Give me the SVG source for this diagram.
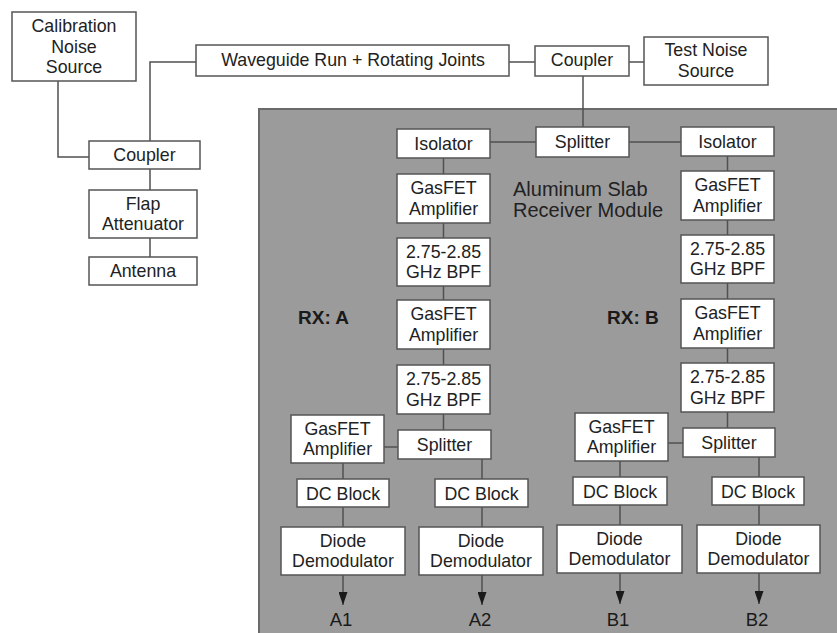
<svg xmlns="http://www.w3.org/2000/svg" width="837" height="633" viewBox="0 0 837 633">
<style>
.box{fill:#fff;stroke:#555;stroke-width:1.5}
.t{font-family:"Liberation Sans",Arial,sans-serif;font-size:17.8px;fill:#222;text-anchor:middle}
.lbl{font-family:"Liberation Sans",Arial,sans-serif;font-size:19px;font-weight:bold;fill:#1a1a1a}
.out{font-family:"Liberation Sans",Arial,sans-serif;font-size:18.5px;fill:#1a1a1a;text-anchor:middle}
.slab{font-family:"Liberation Sans",Arial,sans-serif;font-size:20px;fill:#222}
.ln{fill:none;stroke:#505050;stroke-width:1.5}
</style>
<defs>
<marker id="arr" viewBox="0 0 13 9" refX="13" refY="4.5" markerWidth="13" markerHeight="9" markerUnits="userSpaceOnUse" orient="auto">
<path d="M0,0 L13,4.5 L0,9 z" fill="#1a1a1a"/>
</marker>
</defs>
<rect x="0" y="0" width="837" height="633" fill="#fff"/>
<g id="slab">
<rect x="259" y="109" width="580" height="530" fill="#9b9b9b" stroke="#6a6a6a" stroke-width="2"/>
<text class="slab" x="513" y="196">Aluminum Slab</text>
<text class="slab" x="513" y="217">Receiver Module</text>
<text class="lbl" x="298" y="324">RX: A</text>
<text class="lbl" x="607" y="324">RX: B</text>
</g>
<g id="connectors">
<path class="ln" d="M58,81 V157 H89"/>
<path class="ln" d="M196,62 H150 V141"/>
<path class="ln" d="M150,169 V190 M150,238 V257"/>
<path class="ln" d="M509,62 H535 M629,62 H644"/>
<path class="ln" d="M583,76 V127"/>
<path class="ln" d="M490,142 H536 M629,142 H681"/>
<path class="ln" d="M443.5,158 V430"/>
<path class="ln" d="M384,447 H398"/>
<path class="ln" d="M343,463 V527"/>
<path class="ln" d="M482,459 V527"/>
<path class="ln" d="M343,575 V605" marker-end="url(#arr)"/>
<path class="ln" d="M482,575 V605" marker-end="url(#arr)"/>
<path class="ln" d="M727.5,156 V428"/>
<path class="ln" d="M668,443 H683"/>
<path class="ln" d="M620,461 V525"/>
<path class="ln" d="M759,457 V525"/>
<path class="ln" d="M620,573 V604" marker-end="url(#arr)"/>
<path class="ln" d="M759,573 V604" marker-end="url(#arr)"/>
</g>
<g id="cal-noise"><rect class="box" x="12" y="12" width="124" height="69"/><text class="t" x="74" y="32">Calibration</text><text class="t" x="74" y="53">Noise</text><text class="t" x="74" y="73">Source</text></g>
<g id="coupler-ant"><rect class="box" x="89" y="141" width="111" height="28"/><text class="t" x="144.5" y="161">Coupler</text></g>
<g id="flap"><rect class="box" x="89" y="190" width="108" height="48"/><text class="t" x="143" y="210">Flap</text><text class="t" x="143" y="230">Attenuator</text></g>
<g id="antenna"><rect class="box" x="89" y="257" width="108" height="28"/><text class="t" x="143" y="277">Antenna</text></g>
<g id="waveguide"><rect class="box" x="196" y="45" width="313" height="31"/><text class="t" x="353" y="66">Waveguide Run + Rotating Joints</text></g>
<g id="coupler-top"><rect class="box" x="535" y="46" width="94" height="30"/><text class="t" x="582" y="66">Coupler</text></g>
<g id="test-noise"><rect class="box" x="644" y="37" width="124" height="48"/><text class="t" x="706" y="56">Test Noise</text><text class="t" x="706" y="77">Source</text></g>
<g id="splitter-main"><rect class="box" x="536" y="127" width="93" height="30"/><text class="t" x="582.5" y="148">Splitter</text></g>
<g id="iso-a"><rect class="box" x="397" y="129" width="93" height="29"/><text class="t" x="443.5" y="150">Isolator</text></g>
<g id="amp-a1"><rect class="box" x="397" y="174" width="93" height="49"/><text class="t" x="443.5" y="194">GasFET</text><text class="t" x="443.5" y="214.5">Amplifier</text></g>
<g id="bpf-a1"><rect class="box" x="397" y="238" width="93" height="48"/><text class="t" x="443.5" y="257.5">2.75-2.85</text><text class="t" x="443.5" y="278">GHz BPF</text></g>
<g id="amp-a2"><rect class="box" x="397" y="300" width="93" height="49"/><text class="t" x="443.5" y="320">GasFET</text><text class="t" x="443.5" y="340.5">Amplifier</text></g>
<g id="bpf-a2"><rect class="box" x="397" y="365" width="93" height="49"/><text class="t" x="443.5" y="385">2.75-2.85</text><text class="t" x="443.5" y="405.5">GHz BPF</text></g>
<g id="amp-a3"><rect class="box" x="291" y="415" width="93" height="48"/><text class="t" x="337.5" y="434.5">GasFET</text><text class="t" x="337.5" y="455">Amplifier</text></g>
<g id="split-a"><rect class="box" x="398" y="430" width="93" height="29"/><text class="t" x="444.5" y="451">Splitter</text></g>
<g id="dc-a1"><rect class="box" x="297" y="479" width="92" height="28"/><text class="t" x="343" y="499.5">DC Block</text></g>
<g id="dc-a2"><rect class="box" x="435" y="479" width="93" height="28"/><text class="t" x="481.5" y="499.5">DC Block</text></g>
<g id="diode-a1"><rect class="box" x="281" y="527" width="124" height="48"/><text class="t" x="343" y="546.5">Diode</text><text class="t" x="343" y="567">Demodulator</text></g>
<g id="diode-a2"><rect class="box" x="419" y="527" width="124" height="48"/><text class="t" x="481" y="546.5">Diode</text><text class="t" x="481" y="567">Demodulator</text></g>
<g id="iso-b"><rect class="box" x="681" y="127" width="93" height="29"/><text class="t" x="727.5" y="148">Isolator</text></g>
<g id="amp-b1"><rect class="box" x="681" y="171" width="93" height="49"/><text class="t" x="727.5" y="191">GasFET</text><text class="t" x="727.5" y="211.5">Amplifier</text></g>
<g id="bpf-b1"><rect class="box" x="681" y="235" width="93" height="48"/><text class="t" x="727.5" y="254.5">2.75-2.85</text><text class="t" x="727.5" y="275">GHz BPF</text></g>
<g id="amp-b2"><rect class="box" x="681" y="299" width="93" height="49"/><text class="t" x="727.5" y="319">GasFET</text><text class="t" x="727.5" y="339.5">Amplifier</text></g>
<g id="bpf-b2"><rect class="box" x="681" y="363" width="93" height="49"/><text class="t" x="727.5" y="383">2.75-2.85</text><text class="t" x="727.5" y="403.5">GHz BPF</text></g>
<g id="amp-b3"><rect class="box" x="575" y="413" width="93" height="48"/><text class="t" x="621.5" y="432.5">GasFET</text><text class="t" x="621.5" y="453">Amplifier</text></g>
<g id="split-b"><rect class="box" x="683" y="428" width="92" height="29"/><text class="t" x="729" y="449">Splitter</text></g>
<g id="dc-b1"><rect class="box" x="573" y="477" width="94" height="28"/><text class="t" x="620" y="497.5">DC Block</text></g>
<g id="dc-b2"><rect class="box" x="712" y="477" width="92" height="28"/><text class="t" x="758" y="497.5">DC Block</text></g>
<g id="diode-b1"><rect class="box" x="557" y="525" width="125" height="48"/><text class="t" x="619.5" y="544.5">Diode</text><text class="t" x="619.5" y="565">Demodulator</text></g>
<g id="diode-b2"><rect class="box" x="697" y="525" width="123" height="48"/><text class="t" x="758.5" y="544.5">Diode</text><text class="t" x="758.5" y="565">Demodulator</text></g>
<g id="outputs">
<text class="out" x="341" y="626">A1</text>
<text class="out" x="480" y="626">A2</text>
<text class="out" x="618" y="626">B1</text>
<text class="out" x="757" y="626">B2</text>
</g>
</svg>
